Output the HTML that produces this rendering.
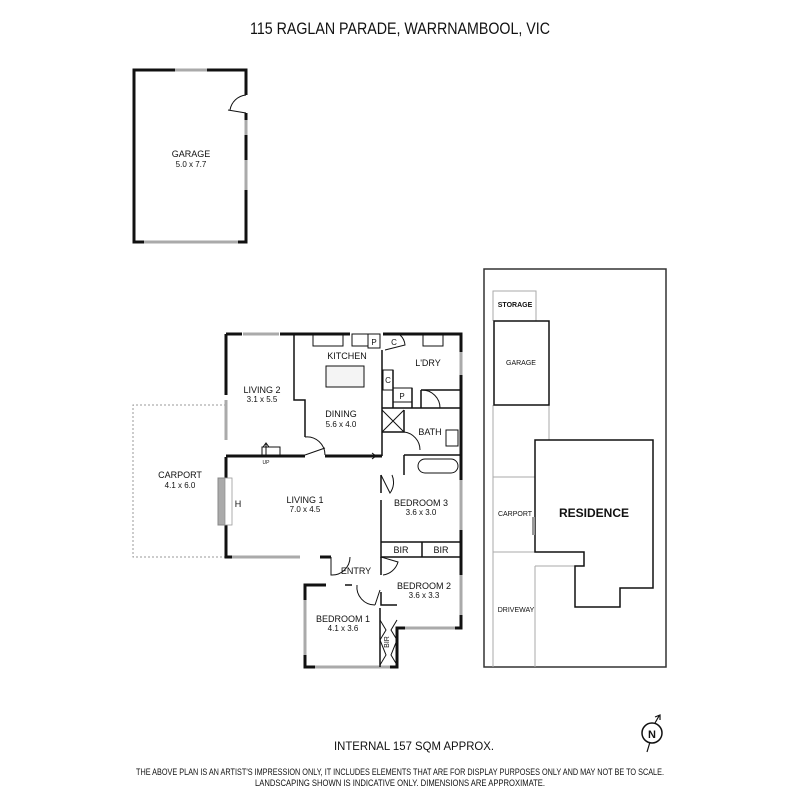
<!DOCTYPE html>
<html><head><meta charset="utf-8"><style>
html,body{margin:0;padding:0;background:#fff;}
svg{display:block;}
text{font-family:"Liberation Sans",sans-serif;fill:#111;}
</style></head><body>
<svg width="800" height="800" viewBox="0 0 800 800" xmlns="http://www.w3.org/2000/svg">
<text x="400" y="34" font-size="17" text-anchor="middle" textLength="300" lengthAdjust="spacingAndGlyphs">115 RAGLAN PARADE, WARRNAMBOOL, VIC</text>

<g fill="none" stroke="#111" stroke-width="3">
<path d="M246,95 V70 H134 V242 H246 V113"/>
</g>
<line x1="175" y1="70" x2="207" y2="70" stroke="#aaa" stroke-width="3"/>
<line x1="144" y1="242" x2="238" y2="242" stroke="#aaa" stroke-width="3"/>
<line x1="246" y1="120" x2="246" y2="135" stroke="#aaa" stroke-width="3"/>
<line x1="246" y1="160" x2="246" y2="190" stroke="#aaa" stroke-width="3"/>
<path d="M246,113 L228,110 M230,110 A18,18 0 0 1 246,95" fill="none" stroke="#111" stroke-width="1"/>
<text x="191" y="157" font-size="9" text-anchor="middle">GARAGE</text>
<text x="191" y="167" font-size="8" text-anchor="middle">5.0 x 7.7</text>

<path d="M226,405 H133 V557 H226" fill="none" stroke="#999" stroke-width="1" stroke-dasharray="2,2"/>
<text x="180" y="478" font-size="9" text-anchor="middle">CARPORT</text>
<text x="180" y="488" font-size="8" text-anchor="middle">4.1 x 6.0</text>

<g fill="none" stroke="#111" stroke-width="3">
<path d="M226,334 H242"/>
<path d="M280,334 H350"/>
<path d="M383,334 H461 V628 H397 V667 H305 V585 H326"/>
<path d="M226,334 V395"/>
<path d="M226,457 V557 H300"/>
<path d="M320,557 H331"/>
<path d="M226,456 H305 M325,456 H382"/>
</g>
<line x1="226" y1="400" x2="226" y2="440" stroke="#aaa" stroke-width="3"/>
<line x1="243" y1="334" x2="279" y2="334" stroke="#aaa" stroke-width="3"/>
<line x1="461" y1="352" x2="461" y2="375" stroke="#aaa" stroke-width="3"/>
<line x1="461" y1="480" x2="461" y2="530" stroke="#aaa" stroke-width="3"/>
<line x1="461" y1="575" x2="461" y2="615" stroke="#aaa" stroke-width="3"/>
<line x1="232" y1="557" x2="300" y2="557" stroke="#aaa" stroke-width="3"/>
<line x1="305" y1="600" x2="305" y2="655" stroke="#aaa" stroke-width="3"/>
<line x1="315" y1="667" x2="390" y2="667" stroke="#aaa" stroke-width="3"/>
<line x1="405" y1="628" x2="455" y2="628" stroke="#aaa" stroke-width="3"/>
<g fill="none" stroke="#111" stroke-width="1.5">
<path d="M294,334 V400 H305 V437"/>
<path d="M382,350 V456"/>
<path d="M382,408 H461"/>
<path d="M393,370 V408 M412,388 V408"/>
<path d="M421,390 V408 M421,390 H461"/>
<path d="M382,432 H404 V410"/>
<path d="M404,455 V475 M404,455 H461"/>
<path d="M381,475 V493 M381,500 V557 H461 M422,542 V557 M381,542 H461"/>
<path d="M381,557 V575 M381,592 V605 H397"/>
<path d="M345,585 H352"/>
<path d="M380,608 V667"/>
</g>
<g fill="none" stroke="#111" stroke-width="1">
<path d="M305,437 A18,18 0 0 1 325,455 M305,455 L325,448"/>
<path d="M331,557 V575 A18,18 0 0 0 350,557"/>
<path d="M381,557 L398,562 A18,18 0 0 1 383,575"/>
<path d="M375,605 A18,18 0 0 1 357,585 M375,605 L380,590"/>
<path d="M381,475 L390,493 A18,18 0 0 0 392,475"/>
<path d="M404,432 A18,18 0 0 1 420,450"/>
<path d="M422,390 A18,18 0 0 1 440,408"/>
<path d="M385,350 L405,345 A15,15 0 0 0 400,335"/>
<rect x="383" y="370" width="10" height="20"/>
<rect x="393" y="388" width="19" height="14"/>
<rect x="326" y="366" width="38" height="21" fill="#f4f4f4"/>
<rect x="313" y="334" width="30" height="12"/>
<rect x="352" y="334" width="16" height="12"/>
<rect x="368" y="334" width="12" height="14"/>
<rect x="423" y="334" width="20" height="12"/>
<path d="M382,410 L404,432 M404,410 L382,432"/>
<rect x="446" y="430" width="12" height="16"/>
<rect x="418" y="459" width="40" height="14" rx="7"/>
<rect x="262" y="447" width="18" height="9"/>
<path d="M266,456 V444 M263,447 L266,443 L269,447"/>
<path d="M382,456 L375,456 M372,453 L376,456 L372,459"/>
<path d="M380,620 L386,630 L380,640 L386,655 L380,665 M397,620 L391,630 L397,640 L391,655 L397,665"/>
</g>
<rect x="218" y="478" width="7" height="47" fill="#aaa" stroke="#888"/>
<rect x="225" y="478" width="7" height="47" fill="#fff" stroke="#999" stroke-width="0.8"/>

<g font-size="9" text-anchor="middle">
<text x="262" y="393">LIVING 2</text><text x="262" y="402" font-size="8">3.1 x 5.5</text>
<text x="347" y="359">KITCHEN</text>
<text x="341" y="417">DINING</text><text x="341" y="427" font-size="8">5.6 x 4.0</text>
<text x="428" y="366">L'DRY</text>
<text x="388" y="383" font-size="8">C</text>
<text x="402" y="399" font-size="8">P</text>
<text x="374" y="345" font-size="8">P</text>
<text x="394" y="345" font-size="8">C</text>
<text x="430" y="435">BATH</text>
<text x="305" y="503">LIVING 1</text><text x="305" y="512" font-size="8">7.0 x 4.5</text>
<text x="238" y="507">H</text>
<text x="266" y="464" font-size="5">UP</text>
<text x="421" y="506">BEDROOM 3</text><text x="421" y="515" font-size="8">3.6 x 3.0</text>
<text x="401" y="553">BIR</text><text x="441" y="553">BIR</text>
<text x="356" y="574">ENTRY</text>
<text x="424" y="589">BEDROOM 2</text><text x="424" y="598" font-size="8">3.6 x 3.3</text>
<text x="343" y="622">BEDROOM 1</text><text x="343" y="631" font-size="8">4.1 x 3.6</text>
<text x="389" y="642" font-size="7" transform="rotate(-90 389 642)">BIR</text>
</g>

<rect x="484" y="269" width="182" height="398" fill="none" stroke="#333" stroke-width="1.5"/>
<g fill="none" stroke="#aaa" stroke-width="1">
<path d="M493,321 V291 H536 V321"/>
<path d="M493,405 V667"/>
<path d="M549,405 V440"/>
<path d="M493,477 H535 M493,552 H535 M535,566 V667 M535,566 H575"/>
</g>
<rect x="494" y="321" width="55" height="84" fill="none" stroke="#111" stroke-width="1.5"/>
<path d="M535,440 H653 V588 H620 V607 H575 V566 H584 V552 H535 Z" fill="none" stroke="#111" stroke-width="1.5"/>
<rect x="532" y="517" width="3" height="18" fill="#999"/>
<g text-anchor="middle">
<text x="515" y="307" font-size="7" font-weight="bold">STORAGE</text>
<text x="521" y="365" font-size="7">GARAGE</text>
<text x="515" y="516" font-size="7">CARPORT</text>
<text x="594" y="517" font-size="12" font-weight="bold">RESIDENCE</text>
<text x="516" y="612" font-size="7">DRIVEWAY</text>
</g>

<circle cx="652" cy="733" r="10" fill="none" stroke="#111" stroke-width="1.5"/>
<text x="652" y="738" font-size="11" font-weight="bold" text-anchor="middle">N</text>
<path d="M647,752 L650,742 M655,723 L659,716 M655,717 L660,715 L660,720" fill="none" stroke="#111" stroke-width="1.2"/>

<text x="414" y="750" font-size="12" text-anchor="middle" textLength="160" lengthAdjust="spacingAndGlyphs">INTERNAL 157 SQM APPROX.</text>
<text x="400" y="775" font-size="9" text-anchor="middle" textLength="528" lengthAdjust="spacingAndGlyphs">THE ABOVE PLAN IS AN ARTIST'S IMPRESSION ONLY, IT INCLUDES ELEMENTS THAT ARE FOR DISPLAY PURPOSES ONLY AND MAY NOT BE TO SCALE.</text>
<text x="400" y="786" font-size="9" text-anchor="middle" textLength="290" lengthAdjust="spacingAndGlyphs">LANDSCAPING SHOWN IS INDICATIVE ONLY. DIMENSIONS ARE APPROXIMATE.</text>
</svg>
</body></html>
